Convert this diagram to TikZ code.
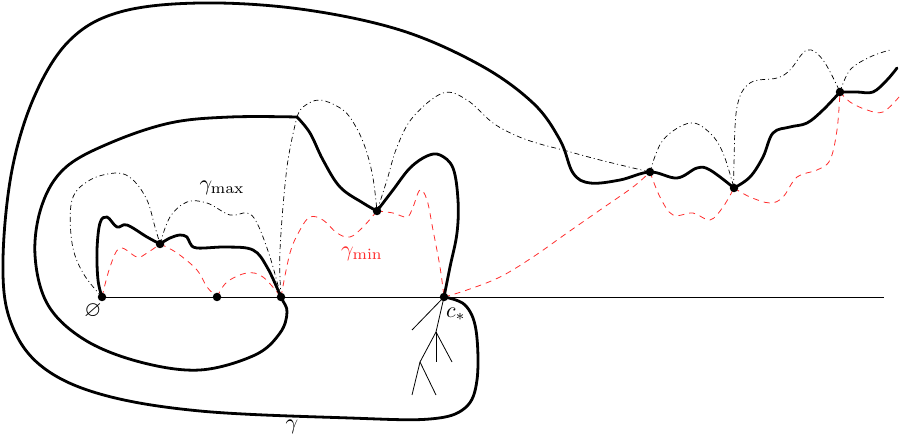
\documentclass[tikz,border=0pt]{standalone}
\usepackage{amssymb}
\usetikzlibrary{calc}
\definecolor{redd}{RGB}{255,45,45}
\begin{document}
\begin{tikzpicture}[x=1pt,y=-1pt,
  dot/.style={circle,fill=black,inner sep=0pt,minimum size=8.5pt},
  gam/.style={line width=2.8pt,line join=round,line cap=round},
  gmax/.style={line width=0.7pt,dash pattern=on 5pt off 3pt on 1pt off 3pt},
  gmin/.style={line width=0.8pt,redd,dash pattern=on 6pt off 5pt},
  thinline/.style={line width=0.8pt},
  lab/.style={scale=2.2,inner sep=0pt}]
\useasboundingbox (0,0) rectangle (900,443);
% anchor points
\coordinate (o) at (102,297);
\coordinate (p1) at (217,297);
\coordinate (p2) at (281,297);
\coordinate (cs) at (444,297);
\coordinate (q1) at (160,244);
\coordinate (q2) at (377,211);
\coordinate (q3) at (650,172);
\coordinate (q4) at (734,188);
\coordinate (q5) at (840,92);
\coordinate (corner) at (297,117);
\coordinate (lend) at (884,297);
% base line
\draw[thinline] (o) -- (lend);
% tree
\coordinate (t1) at (412,330);
\coordinate (t2) at (436,332);
\coordinate (t3) at (436,362);
\coordinate (t4) at (452,362);
\coordinate (t5) at (420,362);
\coordinate (t6) at (412,395);
\coordinate (t7) at (436,395);
\draw[thinline] (cs) -- (t1);
\draw[thinline] (cs) -- (t2);
\draw[thinline] (t2) -- (t3);
\draw[thinline] (t2) -- (t4);
\draw[thinline] (t2) -- (t5);
\draw[thinline] (t5) -- (t6);
\draw[thinline] (t5) -- (t7);
% gamma_max (dash-dot)
\draw[gmax] plot[smooth,tension=0.6] coordinates {(o) (83,273) (72,243) (72,200) (90,180) (117,173) (133,180) (147,200) (155,227) (q1)};
\draw[gmax] plot[smooth,tension=0.6] coordinates {(q1) (170,217) (187,202) (207,203) (230,215) (247,213) (257,223) (270,257) (p2)};
\draw[gmax] plot[smooth,tension=0.6] coordinates {(p2) (280,250) (287,167) (corner)};
\draw[gmax] plot[smooth,tension=0.6] coordinates {(corner) (303,107) (320,100) (343,110) (356,127) (366,150) (373,178) (q2)};
\draw[gmax] plot[smooth,tension=0.6] coordinates {(q2) (387,180) (397,147) (413,117) (443,93) (467,100) (493,123) (517,136) (540,144) (563,150) (600,160) (q3)};
\draw[gmax] plot[smooth,tension=0.6] coordinates {(q3) (663,140) (690,123) (710,133) (723,153) (q4)};
\draw[gmax] plot[smooth,tension=0.6] coordinates {(q4) (734,163) (737,107) (750,83) (777,78) (790,70) (807,50) (823,60) (q5)};
\draw[gmax] plot[smooth,tension=0.6] coordinates {(q5) (850,70) (870,57) (890,50)};
% gamma_min (red dashed)
\draw[gmin] plot[smooth,tension=0.6] coordinates {(o) (110,267) (120,248) (137,257) (147,253) (q1)};
\draw[gmin] plot[smooth,tension=0.6] coordinates {(q1) (177,253) (197,270) (207,287) (p1)};
\draw[gmin] plot[smooth,tension=0.6] coordinates {(p1) (227,282) (247,273) (263,277) (p2)};
\draw[gmin] plot[smooth,tension=0.6] coordinates {(p2) (290,253) (300,230) (310,217) (323,220) (337,233) (350,237) (363,227) (q2)};
\draw[gmin] plot[smooth,tension=0.6] coordinates {(q2) (393,213) (407,217) (413,207) (420,190) (427,200) (433,230) (440,267) (cs)};
\draw[gmin] plot[smooth,tension=0.6] coordinates {(cs) (467,290) (500,277) (533,257) (567,233) (600,210) (633,187) (q3)};
\draw[gmin] plot[smooth,tension=0.6] coordinates {(q3) (660,197) (673,215) (693,213) (710,220) (723,207) (q4)};
\draw[gmin] plot[smooth,tension=0.6] coordinates {(q4) (750,197) (770,203) (783,197) (797,177) (817,170) (830,160) (837,130) (q5)};
\draw[gmin] plot[smooth,tension=0.6] coordinates {(q5) (850,102) (867,110) (883,112) (899,97)};
% gamma (thick)
\draw[gam] plot[smooth,tension=0.6] coordinates {(o) (98,280) (97,250) (100,223) (107,217) (117,227) (127,225) (147,237) (q1)};
\draw[gam] plot[smooth,tension=0.6] coordinates {(q1) (170,238) (180,235) (187,237) (190,243) (197,248) (227,247) (253,250) (267,267) (p2) (287,312) (280,333) (255,355) (200,370) (140,362) (85,340) (48,305) (35,255) (42,205) (65,168) (110,143) (170,123) (230,117) (corner)};
\draw[gam] plot[smooth,tension=0.6] coordinates {(corner) (310,133) (323,160) (340,187) (363,203) (q2)};
\draw[gam] plot[smooth,tension=0.6] coordinates {(q2) (393,190) (410,168) (427,156) (440,155) (453,168) (458,200) (457,233) (450,267) (cs)};
\draw[gam] plot[smooth,tension=0.6] coordinates {(cs) (465,305) (476,330) (477,380) (465,408) (430,419) (350,418) (200,411) (100,394) (40,365) (10,320) (3,260) (12,170) (35,95) (70,40) (120,12) (200,3) (300,9) (400,30) (480,65) (533,103) (560,140) (573,173) (590,183) (620,180) (q3) (677,178) (697,168) (710,170) (q4)};
\draw[gam] plot[smooth,tension=0.6] coordinates {(q4) (750,177) (763,157) (773,133) (790,127) (807,123) (823,110) (q5)};
\draw[gam] plot[smooth,tension=0.6] coordinates {(q5) (857,92) (873,92) (887,80) (897,68)};
% dots
\node[dot] (d0) at (o) {};
\node[dot] (d1) at (p1) {};
\node[dot] (d2) at (p2) {};
\node[dot] (d3) at (cs) {};
\node[dot] (d4) at (q1) {};
\node[dot] (d5) at (q2) {};
\node[dot] (d6) at (q3) {};
\node[dot] (d7) at (q4) {};
\node[dot] (d8) at (q5) {};
% labels
\node[lab] (lo) at (93,311) {$\varnothing$};
\node[lab] (lc) at (456,314) {$c_*$};
\node[lab] (lg) at (292,427) {$\gamma$};
\node[lab] (lmax) at (222,188) {$\gamma_{\max}$};
\node[lab,text=redd] (lmin) at (362,254) {$\gamma_{\min}$};
\end{tikzpicture}
\end{document}
